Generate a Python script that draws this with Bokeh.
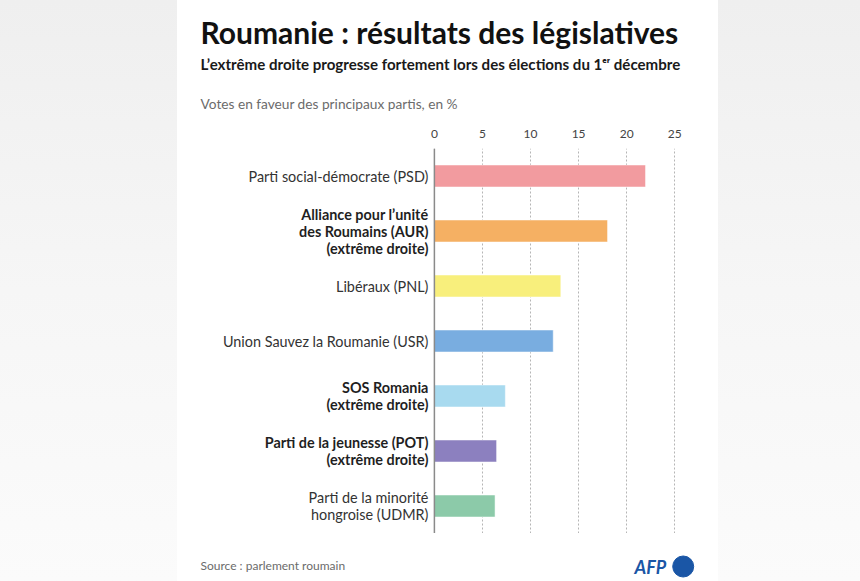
from bokeh.plotting import figure
from bokeh.models import ColumnDataSource, LabelSet, Span, FactorRange, Range1d, Spacer
from bokeh.layouts import row, column
from bokeh.core.properties import value
from bokeh.embed import file_html
from bokeh.resources import INLINE

# ---- data ----
parties = ["PSD", "AUR", "PNL", "USR", "SOS", "POT", "UDMR"]
labels = [
    "Parti social-démocrate (PSD)",
    "Alliance pour l\u2019unit\u00e9\ndes Roumains (AUR)\n(extr\u00eame droite)",
    "Lib\u00e9raux (PNL)",
    "Union Sauvez la Roumanie (USR)",
    "SOS Romania\n(extr\u00eame droite)",
    "Parti de la jeunesse (POT)\n(extr\u00eame droite)",
    "Parti de la minorit\u00e9\nhongroise (UDMR)",
]
far_right = [False, True, False, False, True, True, False]
votes = [21.96, 18.01, 13.15, 12.36, 7.38, 6.47, 6.31]
colors = ["#f29b9f", "#f5b063", "#f8ef7c", "#79ade0", "#a8daef", "#8c80bf", "#8ccaa9"]
ticks = [0, 5, 10, 15, 20, 25]

title = "Roumanie : r\u00e9sultats des l\u00e9gislatives"
subtitle = "L\u2019extr\u00eame droite progresse fortement lors des \u00e9lections du 1\u1d49\u02b3 d\u00e9cembre"
caption = "Votes en faveur des principaux partis, en %"
source = "Source : parlement roumain"

W = 541
FONT = "Lato"
LINE = 17


def blank(height, y0, y1):
    f = figure(width=W, height=height, output_backend="svg", toolbar_location=None,
               x_range=Range1d(0, W), y_range=Range1d(y1, y0),
               min_border=0, min_border_left=0, min_border_right=0,
               min_border_top=0, min_border_bottom=0)
    f.axis.visible = False
    f.grid.visible = False
    f.outline_line_color = None
    f.background_fill_color = "white"
    f.border_fill_color = "white"
    return f


def txt(f, x, y, text, size, style="normal", color="#111111", align="left"):
    f.text(x=[x], y=[y], text=[text], text_font=value(FONT), text_font_size=size,
           text_font_style=style, text_color=color, text_align=align,
           text_baseline="alphabetic")


# ---- header ----
head = blank(120, 0, 120)
txt(head, 23, 31, title, "30px", "bold")
txt(head, 23, 63, subtitle, "15.1px", "bold", "#1a1a1a")
txt(head, 23, 103, caption, "13.7px", "normal", "#6b6b6b")

# ---- main chart ----
src = ColumnDataSource(dict(party=parties, votes=votes, color=colors))

rows = {False: dict(party=[], label=[], x=[], dy=[]), True: dict(party=[], label=[], x=[], dy=[])}
for party, lab, fr in zip(parties, labels, far_right):
    lines = lab.split("\n")
    n = len(lines)
    for i, ln in enumerate(lines):
        d = rows[fr]
        d["party"].append(party)
        d["label"].append(ln)
        d["x"].append(0)
        d["dy"].append(((n - 1) / 2 - i) * LINE)

p = figure(width=W, height=413, output_backend="svg", toolbar_location=None,
           y_range=FactorRange(factors=list(reversed(parties))),
           x_range=Range1d(-26.72, 29.55), x_axis_location="above",
           min_border_left=0, min_border_right=0, min_border_top=28, min_border_bottom=0)
p.outline_line_color = None
p.background_fill_color = "white"
p.border_fill_color = "white"

p.hbar(y="party", right="votes", left=0, height=0.4, color="color", source=src,
       line_color="white", line_width=0.5)

p.xaxis.ticker = ticks
p.xaxis.axis_line_color = None
p.xaxis.major_tick_line_color = None
p.xaxis.minor_tick_line_color = None
p.xaxis.major_label_text_font = FONT
p.xaxis.major_label_text_font_size = "12px"
p.xaxis.major_label_text_color = "#444444"
p.xaxis.major_label_standoff = 5
p.yaxis.visible = False

p.xgrid.grid_line_color = "#b5b5b5"
p.xgrid.grid_line_dash = "2 2"
p.xgrid.grid_line_width = 1
p.ygrid.grid_line_color = None

p.add_layout(Span(location=0, dimension="height", line_color="#8a8a8a", line_width=1.5))

for fr, style, col in ((False, "normal", "#333333"), (True, "bold", "#1f1f1f")):
    p.add_layout(LabelSet(x="x", y="party", text="label", source=ColumnDataSource(rows[fr]),
                          x_offset=-6, y_offset="dy",
                          text_align="right", text_baseline="middle",
                          text_font=value(FONT), text_font_size="14.4px",
                          text_font_style=style, text_color=col))

# ---- footer ----
foot = blank(48, 533, 581)
txt(foot, 23, 565, source, "12px", "normal", "#6b6b6b")
txt(foot, 457, 566, "AFP", "18px", "bold italic", "#1a56a6")
foot.scatter(x=[505.7], y=[566], size=21, marker="circle", color="#1a56a6")

card = column(head, p, foot, spacing=0, styles={"background-color": "white"})
layout = row(Spacer(width=177, height=581), card, Spacer(width=142, height=581),
             styles={"background": "linear-gradient(180deg, #efefef 0%, #f6f6f6 50%, #fbfbfb 100%)"})

open("out.html", "w").write(file_html(layout, INLINE))
